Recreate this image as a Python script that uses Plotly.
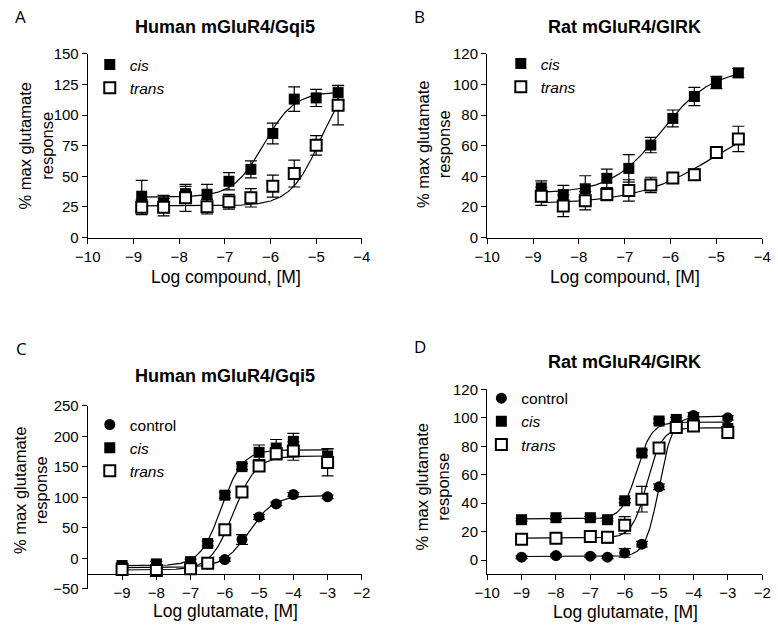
import numpy as np
import plotly.graph_objects as go

W, H = 778, 629
FONT = "Liberation Sans, Arial, sans-serif"

# ---------------- data ----------------
# Panel A: Human mGluR4/Gqi5, log compound
A_X = [-8.82, -8.34, -7.86, -7.39, -6.91, -6.43, -5.95, -5.48, -5.0, -4.52]
A_CIS = [33.8, 28.5, 35.9, 35.4, 46.0, 55.7, 85.0, 113.0, 114.0, 118.3]
A_CIS_ERR = [13.0, 6.0, 6.0, 8.0, 7.0, 7.0, 8.5, 10.0, 7.0, 6.0]
A_TRANS = [24.8, 24.8, 32.5, 25.3, 29.3, 32.5, 42.0, 52.3, 75.3, 108.0]
A_TRANS_ERR = [6.0, 7.0, 11.0, 6.0, 6.0, 7.5, 9.0, 11.0, 8.0, 16.0]
A_CIS_FIT = [33.0, 119.0, -6.15, 1.3]      # bottom, top, logEC50, hill
A_TRANS_FIT = [26.0, 135.0, -4.9, 1.3]

# Panel B: Rat mGluR4/GIRK, log compound
B_X = A_X
B_CIS = [32.5, 28.1, 31.9, 38.7, 45.2, 60.4, 77.8, 92.1, 101.2, 107.5]
B_CIS_ERR = [4.5, 6.0, 8.5, 6.0, 9.0, 5.0, 5.5, 6.0, 4.0, 3.0]
B_TRANS = [27.0, 20.7, 24.1, 28.1, 30.8, 34.4, 38.9, 41.0, 55.6, 64.4]
B_TRANS_ERR = [6.0, 7.0, 6.0, 4.0, 7.0, 5.0, 3.5, 3.7, 2.0, 8.3]
B_CIS_FIT = [29.0, 110.0, -6.2, 0.8]
B_TRANS_FIT = [22.0, 85.0, -5.0, 0.5]

# Panel C: Human mGluR4/Gqi5, log glutamate
C_X = [-9, -8, -7, -6.5, -6, -5.5, -5, -4.5, -4, -3]
C_CTRL = [-14.0, -15.0, -12.0, -9.0, -2.0, 31.0, 68.0, 89.4, 104.8, 101.0]
C_CTRL_ERR = [2.0, 2.0, 2.0, 2.0, 3.0, 8.0, 4.0, 3.0, 3.0, 3.0]
C_CIS = [-11.7, -9.0, -5.3, 24.5, 103.7, 150.5, 174.0, 181.0, 192.0, 168.0]
C_CIS_ERR = [4.0, 4.0, 4.0, 4.0, 5.0, 5.0, 12.0, 14.0, 13.0, 12.0]
C_TRANS = [-18.0, -19.7, -17.0, -8.0, 46.8, 109.0, 151.6, 171.8, 176.0, 157.4]
C_TRANS_ERR = [3.0, 3.0, 3.0, 3.0, 4.0, 5.0, 8.0, 10.0, 15.0, 22.0]
C_CTRL_FIT = [-15.0, 103.0, -5.3, 1.2]
C_CIS_FIT = [-12.0, 178.0, -6.1, 1.4]
C_TRANS_FIT = [-19.0, 168.0, -5.75, 1.3]

# Panel D: Rat mGluR4/GIRK, log glutamate
D_X = [-9, -8, -7, -6.5, -6, -5.5, -5, -4.5, -4, -3]
D_CTRL = [2.0, 3.2, 2.7, 2.0, 5.0, 11.2, 51.5, 93.0, 101.7, 100.0]
D_CTRL_ERR = [1.0, 1.0, 1.0, 1.0, 3.0, 2.0, 2.0, 2.0, 2.0, 1.5]
D_CIS = [28.4, 29.8, 29.8, 28.4, 41.7, 75.3, 97.8, 98.9, 99.6, 92.5]
D_CIS_ERR = [1.0, 1.0, 1.0, 1.0, 1.5, 2.0, 1.5, 1.5, 1.5, 1.5]
D_TRANS = [14.7, 15.3, 16.5, 16.0, 24.5, 42.8, 78.8, 93.2, 94.3, 89.8]
D_TRANS_ERR = [2.0, 3.0, 4.0, 4.0, 6.0, 9.0, 3.0, 2.0, 2.0, 2.0]
D_CTRL_FIT = [2.5, 101.0, -5.0, 2.2]
D_CIS_FIT = [29.0, 97.0, -5.65, 2.0]
D_TRANS_FIT = [15.5, 93.0, -5.35, 2.0]

TITLE_AB = ["Human mGluR4/Gqi5", "Rat mGluR4/GIRK"]
XTITLE_TOP = "Log compound, [M]"
XTITLE_BOT = "Log glutamate, [M]"
YTITLE = "% max glutamate<br>response"


def logistic(x, p):
    b, t, ec, h = p
    return b + (t - b) / (1 + 10 ** ((ec - x) * h))


def px_x(p):
    return p / W


def px_y(p):
    return 1 - p / H


fig = go.Figure()

SQ = dict(symbol="square", size=11, color="black", line=dict(color="black", width=0))
SQO = dict(symbol="square", size=11, color="white", line=dict(color="black", width=2))
CI = dict(symbol="circle", size=11, color="black", line=dict(color="black", width=0))
RANK = {"control": 1, "<i>cis</i>": 2, "<i>trans</i>": 3}


def add_series(x, y, err, fit, marker, name, xa, ya, legend):
    xs = np.linspace(min(x), max(x), 300)
    fig.add_trace(go.Scatter(x=xs, y=logistic(xs, fit), mode="lines",
                             line=dict(color="black", width=1.2),
                             xaxis=xa, yaxis=ya, showlegend=False, hoverinfo="skip",
                             cliponaxis=False))
    fig.add_trace(go.Scatter(x=x, y=y, mode="markers", marker=marker, name=name,
                             error_y=dict(type="data", array=err, visible=True,
                                          color="black", thickness=1.2, width=6),
                             xaxis=xa, yaxis=ya, legend=legend, legendgroup=name + xa,
                             legendrank=RANK[name], cliponaxis=False))


add_series(A_X, A_CIS, A_CIS_ERR, A_CIS_FIT, SQ, "<i>cis</i>", "x", "y", "legend")
add_series(A_X, A_TRANS, A_TRANS_ERR, A_TRANS_FIT, SQO, "<i>trans</i>", "x", "y", "legend")
add_series(B_X, B_CIS, B_CIS_ERR, B_CIS_FIT, SQ, "<i>cis</i>", "x2", "y2", "legend2")
add_series(B_X, B_TRANS, B_TRANS_ERR, B_TRANS_FIT, SQO, "<i>trans</i>", "x2", "y2", "legend2")
add_series(C_X, C_CTRL, C_CTRL_ERR, C_CTRL_FIT, CI, "control", "x3", "y3", "legend3")
add_series(C_X, C_CIS, C_CIS_ERR, C_CIS_FIT, SQ, "<i>cis</i>", "x3", "y3", "legend3")
add_series(C_X, C_TRANS, C_TRANS_ERR, C_TRANS_FIT, SQO, "<i>trans</i>", "x3", "y3", "legend3")
add_series(D_X, D_CTRL, D_CTRL_ERR, D_CTRL_FIT, CI, "control", "x4", "y4", "legend4")
add_series(D_X, D_CIS, D_CIS_ERR, D_CIS_FIT, SQ, "<i>cis</i>", "x4", "y4", "legend4")
add_series(D_X, D_TRANS, D_TRANS_ERR, D_TRANS_FIT, SQO, "<i>trans</i>", "x4", "y4", "legend4")

ax = dict(showline=True, linecolor="black", linewidth=1.3, ticks="outside", ticklen=5,
          tickwidth=1.3, tickcolor="black", showgrid=False, zeroline=False,
          tickfont=dict(family=FONT, size=15, color="black"), fixedrange=True)

fig.update_layout(
    width=W, height=H, margin=dict(l=0, r=0, t=0, b=0),
    paper_bgcolor="white", plot_bgcolor="white",
    font=dict(family=FONT, size=15, color="black"),
    xaxis=dict(ax, domain=[px_x(77), px_x(359)], range=[-10, -4], dtick=1, anchor="y"),
    yaxis=dict(ax, domain=[px_y(235), px_y(46)], range=[0, 150], dtick=25, anchor="x"),
    xaxis2=dict(ax, domain=[px_x(488), px_x(771)], range=[-10, -4], dtick=1, anchor="y2"),
    yaxis2=dict(ax, domain=[px_y(235), px_y(46)], range=[0, 120], dtick=20, anchor="x2"),
    xaxis3=dict(ax, domain=[px_x(77), px_x(359)], range=[-10, -2],
                tickvals=[-9, -8, -7, -6, -5, -4, -3, -2], anchor="free",
                position=px_y(580.4)),
    yaxis3=dict(ax, domain=[px_y(596), px_y(408)], range=[-50, 250], dtick=50, anchor="x3"),
    xaxis4=dict(ax, domain=[px_x(488), px_x(771)], range=[-10, -2], dtick=1, anchor="y4"),
    yaxis4=dict(ax, domain=[px_y(581), px_y(391)], range=[-10, 120],
                tickvals=[0, 20, 40, 60, 80, 100, 120], anchor="x4"),
)

LEG = dict(bgcolor="rgba(0,0,0,0)", borderwidth=0, font=dict(family=FONT, size=15.5),
           xanchor="left", yanchor="top", traceorder="normal", tracegroupgap=0,
           itemclick=False, itemdoubleclick=False)
fig.update_layout(
    legend=dict(LEG, x=px_x(79), y=px_y(40)),
    legend2=dict(LEG, x=px_x(502), y=px_y(39)),
    legend3=dict(LEG, x=px_x(79), y=px_y(410)),
    legend4=dict(LEG, x=px_x(482), y=px_y(383)),
)

anns = []


def ann(text, x, y, size=15, bold=False, family=FONT, angle=0, xanchor="center"):
    if bold:
        text = "<b>" + text + "</b>"
    anns.append(dict(text=text, x=px_x(x), y=px_y(y), xref="paper", yref="paper",
                     showarrow=False, xanchor=xanchor, yanchor="middle", textangle=angle,
                     font=dict(family=family, size=size, color="black")))


# panel letters
ann("A", 0, 8, size=17, family="Open Sans", xanchor="left")
ann("B", 411, 8, size=17, family="Open Sans", xanchor="left")
ann("C", 1, 349, size=17, family="Open Sans", xanchor="left")
ann("D", 411, 347, size=17, family="Open Sans", xanchor="left")
# titles
ann(TITLE_AB[0], 218, 18.5, size=18, bold=True)
ann(TITLE_AB[1], 629, 18.5, size=18, bold=True)
ann(TITLE_AB[0], 218, 377, size=18, bold=True)
ann(TITLE_AB[1], 629, 363, size=18, bold=True)
# x titles
ann(XTITLE_TOP, 219, 275, size=17.5)
ann(XTITLE_TOP, 630, 275, size=17.5)
ann(XTITLE_BOT, 219, 619, size=17.5)
ann(XTITLE_BOT, 630, 620, size=17.5)
# y titles
ann(YTITLE, 23, 141, size=16.5, angle=-90)
ann(YTITLE, 432, 139, size=16.5, angle=-90)
ann(YTITLE, 18, 495, size=16.5, angle=-90)
ann(YTITLE, 432, 491, size=16.5, angle=-90)

fig.update_layout(annotations=anns)

fig.write_html("out.html", include_plotlyjs=True, config={"displayModeBar": False},
               post_script="document.body.style.margin='0';document.body.style.padding='0';")
